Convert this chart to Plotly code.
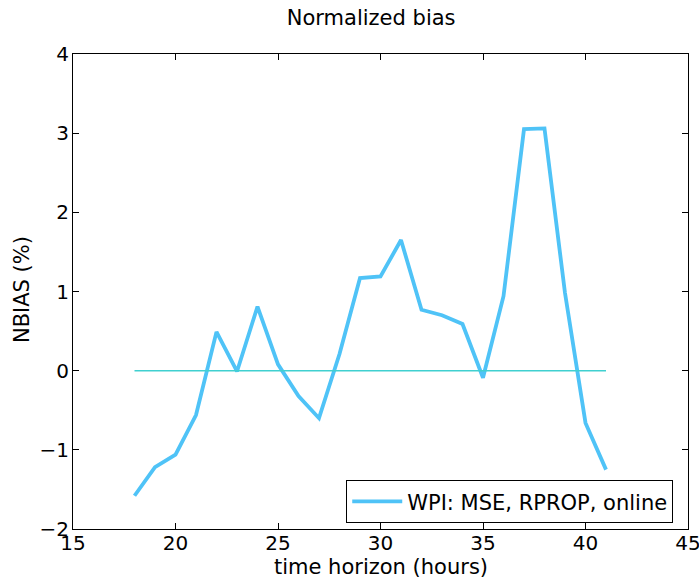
import plotly.graph_objects as go

hours = [18, 19, 20, 21, 22, 23, 24, 25, 26, 27, 28, 29, 30, 31, 32, 33, 34, 35, 36, 37, 38, 39, 40, 41]
nbias = [-1.58, -1.22, -1.06, -0.56, 0.49, -0.01, 0.81, 0.08, -0.32, -0.60, 0.21, 1.17, 1.19, 1.65,
         0.77, 0.70, 0.59, -0.09, 0.94, 3.05, 3.06, 0.98, -0.66, -1.25]
zero_x = [18, 41]
zero_y = [0, 0]
x_ticks = [15, 20, 25, 30, 35, 40, 45]
y_ticks = [-2, -1, 0, 1, 2, 3, 4]

font = "DejaVu Sans"

fig = go.Figure()
fig.add_trace(go.Scatter(x=hours, y=nbias, mode="lines", name="WPI: MSE, RPROP, online",
                         line=dict(color="#4FC3F7", width=3.8)))
fig.add_trace(go.Scatter(x=zero_x, y=zero_y, mode="lines", showlegend=False,
                         line=dict(color="#40D0D0", width=1.5)))

axis_common = dict(showline=True, linecolor="black", linewidth=1, mirror="ticks",
                   ticks="inside", ticklen=6, tickcolor="black", showgrid=False, zeroline=False,
                   automargin=False, ticklabeloverflow="allow",
                   tickfont=dict(family=font, size=20, color="black"))

fig.update_layout(
    width=699, height=579,
    margin=dict(l=73, r=11, t=54, b=50),
    paper_bgcolor="white", plot_bgcolor="white",
    font=dict(family=font, color="black"),
    title=dict(text="Normalized bias", x=0.531, xanchor="center", y=0.97, yanchor="middle",
               font=dict(family=font, size=21, color="black")),
    xaxis=dict(range=[15, 45], tickvals=x_ticks, ticktext=[str(v) for v in x_ticks],
               ticklabelstandoff=-4, **axis_common),
    yaxis=dict(range=[-2, 4], tickvals=y_ticks, ticktext=[("\u2212" + str(-v)) if v < 0 else str(v) for v in y_ticks],
               ticklabelstandoff=-1, **axis_common),
    legend=dict(x=0.976, y=0.012, xanchor="right", yanchor="bottom",
                bordercolor="black", borderwidth=1, bgcolor="white", itemwidth=50,
                font=dict(family=font, size=21, color="black")),
    annotations=[
        dict(text="time horizon (hours)", xref="paper", yref="paper", x=0.5, y=-0.08,
             xanchor="center", yanchor="middle", showarrow=False,
             font=dict(family=font, size=21, color="black")),
        dict(text="NBIAS (%)", xref="paper", yref="paper", x=-0.083, y=0.505, textangle=-90,
             xanchor="center", yanchor="middle", showarrow=False,
             font=dict(family=font, size=21, color="black")),
    ],
)

fig.write_html("out.html")
